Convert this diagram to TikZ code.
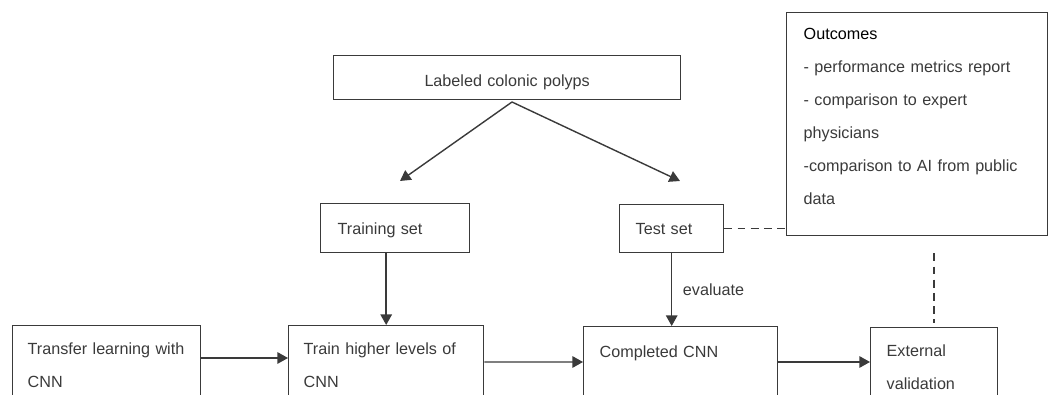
\documentclass[tikz,border=0pt]{standalone}
\usepackage{fontspec}
\setmainfont{Liberation Sans}
\usetikzlibrary{arrows.meta}
\definecolor{ink}{HTML}{3A3A3A}
\begin{document}
\begin{tikzpicture}[x=0.02cm, y=-0.02cm, color=ink, line width=0.8pt,
  box/.style={draw, anchor=north west, align=left, inner ysep=0pt, inner xsep=0.32cm,
    font=\fontsize{9.2}{18.8}\selectfont},
  >={Triangle[length=6pt,width=6.5pt]}]
\useasboundingbox (0,0) rectangle (1048,395);
\clip (0,0) rectangle (1048,395);
\node[box, align=center, inner xsep=0pt, text width=6.94cm, text height=0.62cm, text depth=0.26cm] (polyps) at (333,55) {Labeled colonic polyps};
\node[box, inner xsep=0.34cm, text width=2.3cm, text height=0.62cm, text depth=0.36cm] (trainset) at (320,203) {Training set};
\node[box, text width=1.44cm, text height=0.6cm, text depth=0.36cm] (testset) at (619,204) {Test set};
\node[box, inner xsep=0.34cm, text width=4.54cm, text height=0.54cm, text depth=3.92cm] (outcomes) at (786,12) {\textcolor{black}{Outcomes}\\- performance metrics report\\- comparison to expert\\physicians\\-comparison to AI from public\\data};
\node[box, inner xsep=0.3cm, text width=3.16cm, text height=0.58cm, text depth=2cm] (transfer) at (12,325) {Transfer learning with\\CNN};
\node[box, inner xsep=0.3cm, text width=3.3cm, text height=0.58cm, text depth=2cm] (higher) at (288,325) {Train higher levels of\\CNN};
\node[box, text width=3.24cm, text height=0.62cm, text depth=2cm] (cnn) at (583,326) {Completed CNN};
\node[box, text width=1.9cm, text height=0.58cm, text depth=2cm] (external) at (870,327) {External\\validation};
% split of the labeled data
\coordinate (fork) at (512,102);
\coordinate (traintip) at (400,181);
\coordinate (testtip) at (680,181);
\draw[->] (fork) -- (traintip);
\draw[->] (fork) -- (testtip);
\draw[->] (trainset.south -| higher.north) -- (higher.north);
\draw[->] (testset.south) -- (testset.south |- cnn.north) node[midway, right, inner xsep=6pt, font=\fontsize{9.2}{11}\selectfont] {evaluate};
% bottom row
\draw[->] ([yshift=-0.66cm]transfer.north east) -- ([yshift=-0.66cm]higher.north west);
\draw[->] ([yshift=-0.74cm]higher.north east) -- ([yshift=-0.72cm]cnn.north west);
\draw[->] ([yshift=-0.72cm]cnn.north east) -- ([yshift=-0.7cm]external.north west);
% links to the outcomes
\draw[dash pattern=on 4.5pt off 3pt] (testset.east) -- (testset.east -| outcomes.west);
\draw[dash pattern=on 4.5pt off 3pt, shorten <=0.34cm, shorten >=0.08cm] (outcomes.south -| external.north) -- (external.north);
\end{tikzpicture}
\end{document}
